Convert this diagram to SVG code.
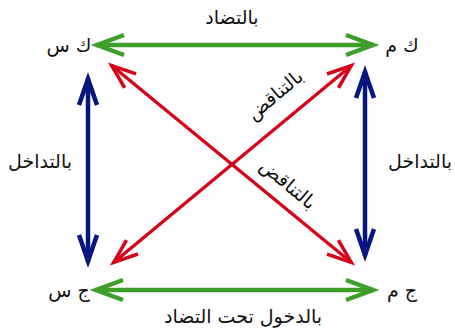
<svg xmlns="http://www.w3.org/2000/svg" width="455" height="329" viewBox="0 0 455 329">
<style>
text{font-family:"DejaVu Sans",sans-serif;font-size:19px;fill:#111;text-anchor:middle}
.g{stroke:#3f9d2a;stroke-width:4.5;fill:none}
.b{stroke:#06157f;stroke-width:4.5;fill:none}
.r{stroke:#d7001a;stroke-width:3.3;fill:none}
</style>
<defs>
<marker id="mg" markerUnits="userSpaceOnUse" orient="auto-start-reverse" overflow="visible" refX="0" refY="0" markerWidth="1" markerHeight="1">
<path d="M-28,-10 L-1,0 L-28,10" stroke="#3f9d2a" stroke-width="4.5" fill="none"/>
</marker>
<marker id="mb" markerUnits="userSpaceOnUse" orient="auto-start-reverse" overflow="visible" refX="0" refY="0" markerWidth="1" markerHeight="1">
<path d="M-27,-9 L-1,0 L-27,9" stroke="#06157f" stroke-width="4.5" fill="none"/>
</marker>
<marker id="mr" markerUnits="userSpaceOnUse" orient="auto-start-reverse" overflow="visible" refX="0" refY="0" markerWidth="1" markerHeight="1">
<path d="M-25,-9 L-1,0 L-25,9" stroke="#d7001a" stroke-width="3.5" fill="none"/>
</marker>
</defs>
<g id="connectors">
<line class="g" x1="96" y1="45" x2="374" y2="45" marker-start="url(#mg)" marker-end="url(#mg)"/>
<line class="g" x1="95" y1="290" x2="374" y2="290" marker-start="url(#mg)" marker-end="url(#mg)"/>
<line class="b" x1="88" y1="78" x2="88" y2="262" marker-start="url(#mb)" marker-end="url(#mb)"/>
<line class="b" x1="365" y1="71" x2="365" y2="256" marker-start="url(#mb)" marker-end="url(#mb)"/>
<line class="r" x1="111" y1="65" x2="352" y2="263" marker-start="url(#mr)" marker-end="url(#mr)"/>
<line class="r" x1="113" y1="263" x2="352" y2="65" marker-start="url(#mr)" marker-end="url(#mr)"/>
</g>
<g id="node-ks"><text x="69" y="52">ك س</text></g>
<g id="node-km"><text x="402" y="52">ك م</text></g>
<g id="node-js"><text x="69" y="297">ج س</text></g>
<g id="node-jm"><text x="402" y="297">ج م</text></g>
<g id="labels">
<text x="232" y="24">بالتضاد</text>
<text x="243" y="323">بالدخول تحت التضاد</text>
<text x="40" y="168">بالتداخل</text>
<text x="420" y="168">بالتداخل</text>
<text transform="translate(279,100) rotate(-40)">بالتناقض</text>
<text transform="translate(284,189) rotate(40)">بالتناقض</text>
</g>
</svg>
